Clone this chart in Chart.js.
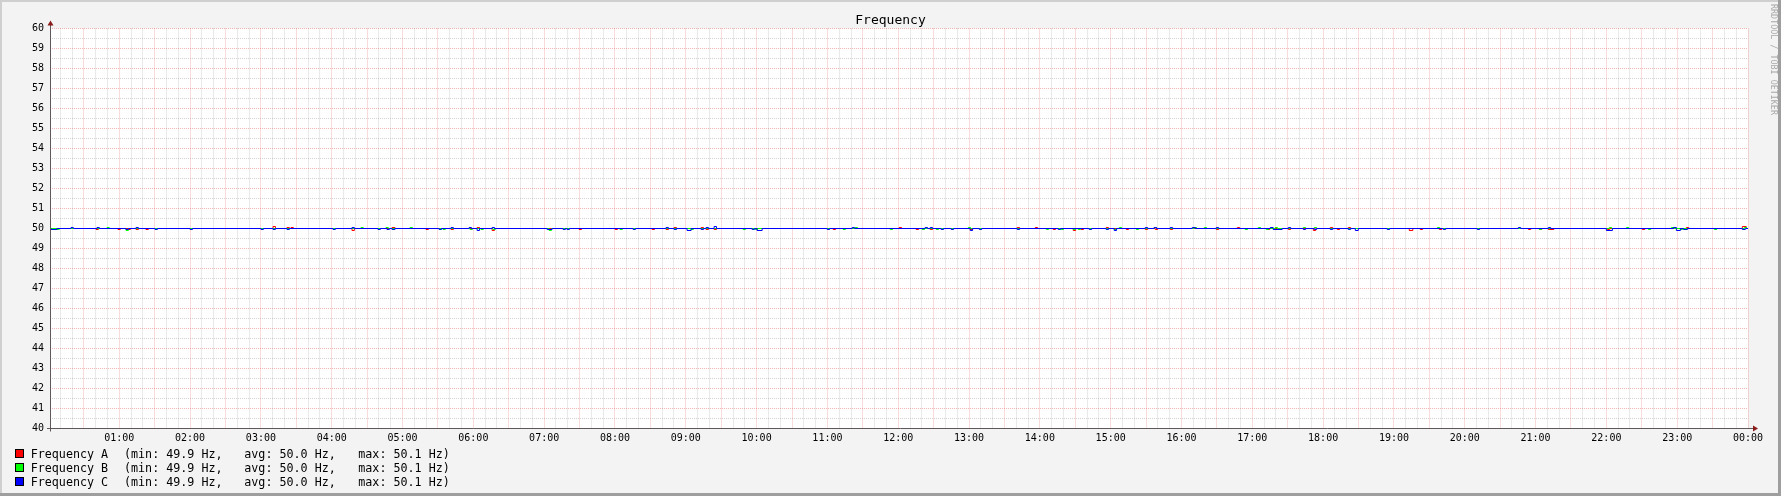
<!DOCTYPE html>
<html>
<head>
<meta charset="utf-8">
<script src="https://cdn.jsdelivr.net/npm/chart.js@4/dist/chart.umd.min.js"></script>
<style>
  html, body { margin: 0; padding: 0; background: #f3f3f3; overflow: hidden; }
  #wrap { width: 1781px; height: 496px; }
</style>
</head>
<body>
<div id="wrap"><canvas id="myChart" width="1781" height="496"></canvas></div>
<script>
// time axis is in minutes since 00:00, the graph starts a little after midnight
var startMinute = 1.3;
var endMinute = 1440;
var hourLabels = ["01:00", "02:00", "03:00", "04:00", "05:00", "06:00", "07:00", "08:00",
                  "09:00", "10:00", "11:00", "12:00", "13:00", "14:00", "15:00", "16:00",
                  "17:00", "18:00", "19:00", "20:00", "21:00", "22:00", "23:00", "00:00"];

var baseHz = 50.0;

// short deviations from 50 Hz: [from minute, to minute, value in Hz]
var freqA = [
  [40.3, 42.3, 49.95], [58.9, 60.9, 49.95], [67.4, 69.4, 49.95], [74.2, 76.2, 49.95],
  [82.6, 84.6, 49.95], [190.3, 192.3, 50.10], [202.1, 204.1, 50.05], [205.5, 207.5, 50.05],
  [257.2, 259.2, 49.90], [291.1, 293.6, 50.05], [319.9, 321.9, 49.95], [341.1, 343.1, 49.95],
  [363.2, 365.2, 50.05], [375.9, 377.9, 49.90], [449.6, 451.6, 49.95], [480.1, 482.1, 49.95],
  [511.5, 513.5, 49.95], [523.3, 525.3, 49.95], [530.1, 532.1, 50.05], [553.0, 555.0, 50.05],
  [557.2, 559.2, 49.95], [564.0, 566.0, 49.95], [664.9, 666.9, 49.95], [720.8, 722.8, 50.05],
  [735.2, 737.2, 49.95], [747.1, 749.1, 49.95], [781.0, 783.0, 49.95], [820.8, 822.8, 50.05],
  [836.1, 838.1, 50.05], [851.3, 853.3, 49.95], [868.3, 870.3, 49.90], [875.0, 877.0, 49.95],
  [896.2, 898.2, 50.05], [913.2, 915.2, 49.95], [929.3, 931.3, 49.95], [937.8, 939.8, 49.95],
  [950.5, 952.5, 49.95], [989.5, 991.5, 49.95], [1007.3, 1009.3, 50.05], [1032.7, 1034.7, 49.95],
  [1041.2, 1043.2, 49.95], [1050.5, 1052.5, 49.95], [1071.7, 1073.7, 49.90], [1086.1, 1088.1, 50.05],
  [1092.0, 1094.0, 49.95], [1101.3, 1103.3, 50.05], [1153.0, 1156.0, 49.90], [1162.3, 1164.3, 49.95],
  [1178.5, 1180.5, 49.95], [1253.9, 1255.9, 49.95], [1263.2, 1265.2, 49.95], [1270.8, 1275.5, 49.95],
  [1320.8, 1322.8, 49.95], [1350.5, 1352.5, 49.95], [1387.8, 1389.8, 50.05], [1435.2, 1438.5, 50.10]
];

var freqB = [
  [7.2, 9.2, 49.95], [49.6, 51.6, 50.05], [65.7, 67.7, 49.90], [264.8, 266.8, 50.05],
  [286.0, 288.0, 50.05], [306.4, 308.4, 50.05], [334.3, 336.3, 49.95], [357.2, 359.2, 49.95],
  [366.5, 368.5, 49.95], [376.7, 378.7, 49.95], [424.2, 426.2, 49.90], [484.3, 486.3, 49.95],
  [544.5, 546.5, 49.95], [588.6, 590.6, 49.95], [598.8, 600.8, 49.95], [673.3, 675.3, 49.95],
  [683.5, 685.5, 50.05], [713.2, 715.2, 49.95], [740.3, 742.3, 49.95], [752.2, 754.2, 49.95],
  [779.3, 781.3, 50.05], [845.4, 847.4, 49.95], [858.1, 860.1, 49.95], [868.3, 870.3, 49.95],
  [872.5, 874.5, 49.95], [903.0, 905.0, 49.95], [907.3, 909.3, 50.05], [921.7, 923.7, 49.95],
  [936.9, 938.9, 50.05], [970.8, 972.8, 50.05], [979.3, 981.3, 50.05], [1014.0, 1016.0, 49.95],
  [1025.1, 1027.1, 50.05], [1031.8, 1033.8, 49.95], [1039.4, 1041.4, 50.05], [1063.2, 1065.2, 50.05],
  [1072.5, 1074.5, 50.05], [1176.8, 1178.8, 50.05], [1263.2, 1265.2, 49.95], [1322.5, 1324.5, 50.05],
  [1337.0, 1339.0, 50.05], [1355.6, 1357.6, 49.95], [1375.1, 1377.1, 50.05], [1382.7, 1384.7, 49.95],
  [1411.5, 1413.5, 49.95], [1436.9, 1438.9, 50.05]
];

var freqC = [
  [2.1, 7.2, 49.95], [19.1, 21.1, 50.05], [41.1, 43.1, 50.05], [65.7, 67.7, 49.95],
  [74.2, 76.2, 50.05], [90.3, 92.3, 49.95], [120.0, 122.0, 49.95], [180.1, 182.1, 49.95],
  [190.3, 192.3, 49.95], [202.1, 204.1, 49.95], [241.1, 243.1, 49.95], [257.2, 259.2, 50.05],
  [279.2, 281.2, 49.95], [286.8, 288.8, 49.95], [291.1, 293.6, 49.95], [331.0, 333.0, 49.95],
  [341.1, 343.1, 50.05], [356.4, 358.4, 50.05], [363.2, 365.2, 49.90], [375.9, 377.9, 50.05],
  [422.5, 426.7, 49.95], [436.0, 438.0, 49.95], [439.4, 441.4, 49.95], [495.4, 497.4, 49.95],
  [523.3, 525.3, 50.05], [530.1, 532.1, 49.95], [541.1, 544.5, 49.90], [553.0, 555.0, 49.95],
  [557.2, 559.2, 50.05], [564.0, 566.0, 50.10], [596.2, 598.2, 49.95], [600.4, 604.7, 49.90],
  [659.8, 661.8, 49.95], [681.0, 683.0, 50.05], [742.8, 744.8, 50.05], [747.1, 749.1, 50.05],
  [756.4, 758.4, 49.95], [764.9, 766.9, 49.95], [781.0, 783.0, 49.90], [788.7, 790.7, 49.95],
  [820.8, 822.8, 49.95], [855.6, 857.6, 49.95], [881.8, 883.8, 49.95], [896.2, 898.2, 49.95],
  [903.0, 905.0, 49.90], [929.3, 931.3, 50.05], [936.9, 938.9, 50.05], [950.5, 952.5, 50.05],
  [969.1, 971.6, 50.05], [989.5, 991.5, 50.05], [1035.2, 1037.7, 50.05], [1037.7, 1045.3, 49.95],
  [1050.5, 1052.5, 50.05], [1063.2, 1065.2, 49.95], [1072.5, 1074.5, 49.95], [1086.1, 1088.1, 49.95],
  [1101.3, 1103.3, 49.95], [1107.3, 1109.8, 49.90], [1134.3, 1136.3, 49.95], [1181.8, 1183.8, 49.95],
  [1210.6, 1212.6, 49.95], [1245.4, 1247.4, 50.05], [1270.8, 1272.8, 50.05], [1320.0, 1325.1, 49.90],
  [1376.8, 1379.3, 50.05], [1379.3, 1382.7, 49.90], [1385.3, 1388.7, 49.95], [1435.2, 1437.7, 49.95]
];

var legendNames = ["Frequency A", "Frequency B", "Frequency C"];
var legendMin = ["49.9", "49.9", "49.9"];
var legendAvg = ["50.0", "50.0", "50.0"];
var legendMax = ["50.1", "50.1", "50.1"];

var lineColors = ["#FF0000", "#00FF00", "#0000FF"];
var FONT = '"DejaVu Sans Mono", monospace';

// turn the list of deviations into step points for the line
function toSteps(blips) {
    var pts = [{x: 0, y: baseHz}];
    for (var i = 0; i < blips.length; i++) {
        pts.push({x: blips[i][0], y: blips[i][2]});
        pts.push({x: blips[i][1], y: baseHz});
    }
    pts.push({x: endMinute, y: baseHz});
    return pts;
}

// canvas background, shade border and white canvas
var backPlugin = {
    id: "back",
    beforeDraw: function(chart) {
        var ctx = chart.ctx, a = chart.chartArea;
        var w = chart.width, h = chart.height;
        ctx.save();
        ctx.fillStyle = "#f3f3f3";
        ctx.fillRect(0, 0, w, h);
        ctx.fillStyle = "#cfcfcf";
        ctx.fillRect(0, 0, w, 2);
        ctx.fillRect(0, 0, 2, h);
        ctx.fillStyle = "#9e9e9e";
        ctx.fillRect(w - 3, 0, 3, h);
        ctx.fillRect(0, h - 3, w, 3);
        ctx.fillStyle = "#ffffff";
        ctx.fillRect(a.left, a.top, a.right - a.left, a.bottom - a.top);
        ctx.restore();
    }
};

// axis lines, arrows, legend and the vertical watermark
var extrasPlugin = {
    id: "extras",
    afterDraw: function(chart) {
        var ctx = chart.ctx, a = chart.chartArea;
        ctx.save();
        var x0 = Math.round(a.left) + 0.5;
        var y0 = Math.round(a.bottom) + 0.5 - 1;
        ctx.strokeStyle = "#605858";
        ctx.lineWidth = 1;
        ctx.beginPath();
        ctx.moveTo(x0, a.bottom + 3);
        ctx.lineTo(x0, a.top - 4);
        ctx.moveTo(a.left - 3, y0);
        ctx.lineTo(a.right + 6, y0);
        ctx.stroke();

        ctx.fillStyle = "#8b1a1a";
        ctx.beginPath();
        ctx.moveTo(x0 - 3, a.top - 3);
        ctx.lineTo(x0, a.top - 8);
        ctx.lineTo(x0 + 3, a.top - 3);
        ctx.closePath();
        ctx.fill();
        ctx.beginPath();
        ctx.moveTo(a.right + 5, y0 - 3);
        ctx.lineTo(a.right + 10, y0);
        ctx.lineTo(a.right + 5, y0 + 3);
        ctx.closePath();
        ctx.fill();

        // legend
        ctx.font = "11.7px " + FONT;
        ctx.textBaseline = "middle";
        ctx.textAlign = "left";
        for (var i = 0; i < legendNames.length; i++) {
            var ty = 454.6 + i * 14;
            var by = 449 + i * 14;
            ctx.fillStyle = lineColors[i];
            ctx.fillRect(15, by, 9, 9);
            ctx.strokeStyle = "#000";
            ctx.strokeRect(15.5, by + 0.5, 8, 8);
            ctx.fillStyle = "#000";
            ctx.fillText(legendNames[i], 30.7, ty);
            ctx.fillText("(min: " + legendMin[i] + " Hz,", 124, ty);
            ctx.fillText("avg: " + legendAvg[i] + " Hz,", 244.3, ty);
            ctx.fillText("max: " + legendMax[i] + " Hz)", 358.3, ty);
        }

        // watermark
        ctx.translate(1773.5, 4);
        ctx.rotate(Math.PI / 2);
        ctx.font = "8.4px " + FONT;
        ctx.fillStyle = "#a8a8a8";
        ctx.textBaseline = "middle";
        ctx.fillText("RRDTOOL / TOBI OETIKER", 0, 0);
        ctx.restore();
    }
};

var canvas = document.getElementById("myChart").getContext("2d");

var dts = [
    {label: legendNames[0], data: toSteps(freqA), borderColor: lineColors[0], order: 3},
    {label: legendNames[1], data: toSteps(freqB), borderColor: lineColors[1], order: 2},
    {label: legendNames[2], data: toSteps(freqC), borderColor: lineColors[2], order: 1}
];
dts.forEach(function(d) {
    d.stepped = true;
    d.borderWidth = 1;
    d.pointRadius = 0;
    d.fill = false;
    d.backgroundColor = d.borderColor;
});

var gridGrey = "rgba(140,140,140,0.38)";
var gridRed = "rgba(232,80,80,0.42)";

var chart = new Chart(canvas, {
    type: "line",
    data: {datasets: dts},
    plugins: [backPlugin, extrasPlugin],
    options: {
        responsive: false,
        animation: false,
        layout: {padding: {left: 0, right: 0, top: 0, bottom: 47.5}},
        plugins: {
            legend: {display: false},
            tooltip: {enabled: false},
            title: {
                display: true,
                text: "Frequency",
                color: "#000",
                font: {family: FONT, size: 13, weight: "normal", lineHeight: 15.5 / 13},
                padding: {top: 13, bottom: 0}
            }
        },
        scales: {
            x: {
                type: "linear",
                min: startMinute,
                max: endMinute,
                afterBuildTicks: function(scale) {
                    var t = [];
                    for (var m = 10; m <= endMinute; m += 10) t.push({value: m});
                    scale.ticks = t;
                },
                afterFit: function(scale) { scale.height = 20; },
                ticks: {
                    autoSkip: false,
                    maxRotation: 0,
                    minRotation: 0,
                    padding: 4,
                    color: "#000",
                    font: {family: FONT, size: 10},
                    callback: function(v) {
                        return v % 60 === 0 ? hourLabels[v / 60 - 1] : "";
                    }
                },
                grid: {
                    drawTicks: false,
                    color: function(c) {
                        return c.tick && c.tick.value % 30 === 0 ? gridRed : gridGrey;
                    }
                },
                border: {display: false, dash: [1, 1]}
            },
            y: {
                position: "left",
                min: 40,
                max: 60,
                afterFit: function(scale) { scale.width = 50; },
                ticks: {
                    stepSize: 0.5,
                    autoSkip: false,
                    padding: 6,
                    color: "#000",
                    font: {family: FONT, size: 10},
                    callback: function(v) { return Number.isInteger(v) ? String(v) : ""; }
                },
                grid: {
                    drawTicks: false,
                    color: function(c) {
                        return c.tick && Number.isInteger(c.tick.value) ? gridRed : gridGrey;
                    }
                },
                border: {display: false, dash: [1, 1]}
            },
            yRight: {
                axis: "y",
                position: "right",
                afterFit: function(scale) { scale.width = 33; },
                ticks: {display: false},
                grid: {display: false},
                border: {display: false}
            }
        }
    }
});
</script>
</body>
</html>
